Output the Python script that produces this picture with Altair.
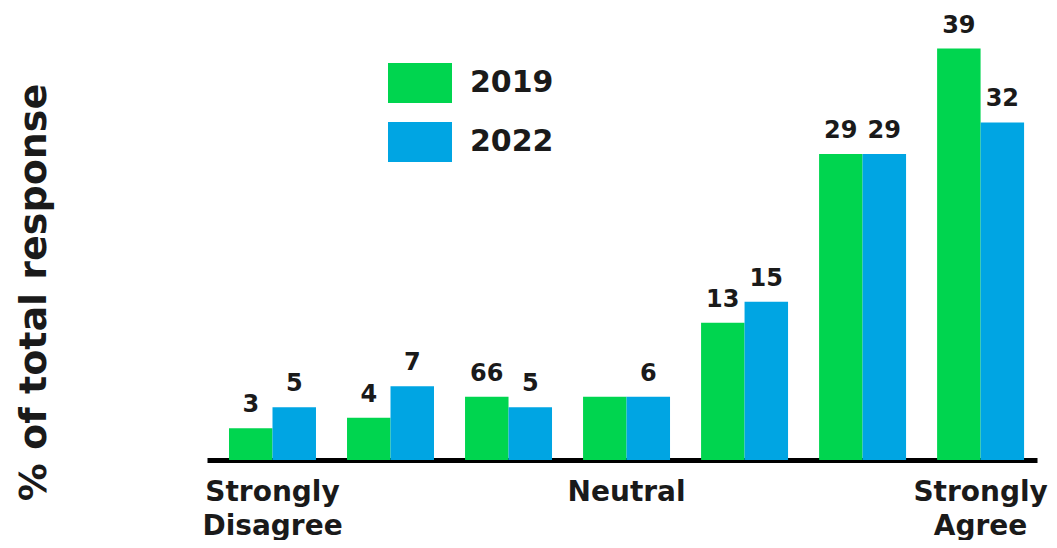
import altair as alt
import pandas as pd

levels = ["1", "2", "3", "4", "5", "6", "7"]
years = ["2019", "2022"]
values_2019 = [3, 4, 6, 6, 13, 29, 39]
values_2022 = [5, 7, 5, 6, 15, 29, 32]
text_2019 = ["3", "4", "66", "", "13", "29", "39"]
text_2022 = ["5", "7", "5", "6", "15", "29", "32"]
tick_labels = {"1": ["Strongly", "Disagree"], "4": ["Neutral"], "7": ["Strongly", "Agree"]}
colors = ["#00d54f", "#00a5e3"]
y_title = "% of total response"

rows = []
for i, lv in enumerate(levels):
    rows.append({"level": lv, "year": years[0], "value": values_2019[i], "text": text_2019[i]})
    rows.append({"level": lv, "year": years[1], "value": values_2022[i], "text": text_2022[i]})
df = pd.DataFrame(rows)

def js_list(lst):
    return "[" + ",".join("'" + s + "'" for s in lst) + "]"

expr = "''"
for k in reversed(list(tick_labels.keys())):
    expr = f"datum.value == '{k}' ? {js_list(tick_labels[k])} : ({expr})"

FONT = "DejaVu Sans"
INK = "#1a1a1a"

x = alt.X(
    "level:N",
    sort=levels,
    scale=alt.Scale(paddingInner=0.263, paddingOuter=0.148, align=0.63),
    axis=alt.Axis(
        title=None,
        labelExpr=expr,
        ticks=False,
        domainColor="black",
        domainWidth=5,
        labelAngle=0,
        labelFont=FONT,
        labelFontWeight="bold",
        labelFontSize=28,
        labelColor=INK,
        labelPadding=18,
        labelLineHeight=34,
        labelBaseline="top",
        labelOverlap=False,
        grid=False,
    ),
)
xo = alt.XOffset("year:N", sort=years, scale=alt.Scale(paddingInner=0, paddingOuter=0))
y = alt.Y(
    "value:Q",
    scale=alt.Scale(domain=[0, 40], nice=False),
    axis=alt.Axis(
        title=y_title,
        labels=False,
        ticks=False,
        domain=False,
        grid=False,
        titleFont=FONT,
        titleFontSize=38,
        titleFontWeight="bold",
        titleColor=INK,
        titleAngle=270,
        titleAlign="center",
        titleBaseline="middle",
        titleX=-173,
        titleY=254,
    ),
)

base = alt.Chart(df)
bars = base.mark_bar().encode(
    x=x,
    xOffset=xo,
    y=y,
    color=alt.Color(
        "year:N",
        sort=years,
        scale=alt.Scale(domain=years, range=colors),
        legend=alt.Legend(
            title=None,
            orient="none",
            legendX=181,
            legendY=13,
            symbolType="M-1,-0.625L1,-0.625L1,0.625L-1,0.625Z",
            symbolSize=4096,
            symbolStrokeWidth=0,
            symbolOpacity=1,
            labelFont=FONT,
            labelFontSize=30,
            labelFontWeight="bold",
            labelColor=INK,
            labelOffset=18,
            rowPadding=7,
            labelLimit=0,
        ),
    ),
)
labels = base.mark_text(
    font=FONT, fontSize=24, fontWeight="bold", color=INK, baseline="alphabetic", dy=-16
).encode(x=x, xOffset=xo, y=y, text="text:N")

chart = (
    alt.layer(bars, labels)
    .properties(
        width=830,
        height=422,
        autosize=alt.AutoSizeParams(type="none"),
        padding={"left": 199, "top": 30, "right": 12, "bottom": 80},
    )
    .configure_view(stroke=None)
)
chart.save("out.html", embed_options={"renderer": "svg", "actions": False})
